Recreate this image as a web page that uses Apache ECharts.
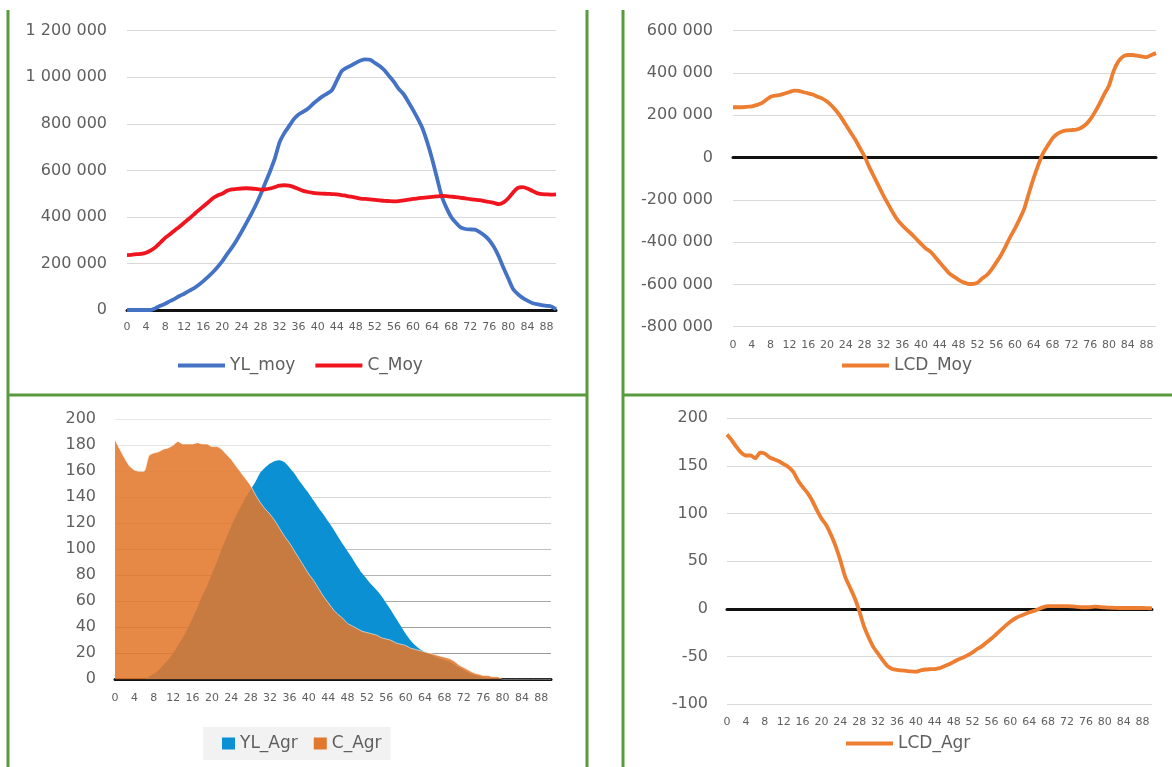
<!DOCTYPE html>
<html>
<head>
<meta charset="utf-8">
<script src="https://cdn.jsdelivr.net/npm/echarts@6/dist/echarts.min.js"></script>
<style>
  html, body { margin: 0; padding: 0; background: #ffffff; }
  #chart { width: 1172px; height: 767px; }
</style>
</head>
<body>
<div id="chart"></div>
<script>
// Ages 0..90 shared by all four panels
const ages = [
  0, 1, 2, 3, 4, 5, 6, 7, 8, 9,
  10, 11, 12, 13, 14, 15, 16, 17, 18, 19,
  20, 21, 22, 23, 24, 25, 26, 27, 28, 29,
  30, 31, 32, 33, 34, 35, 36, 37, 38, 39,
  40, 41, 42, 43, 44, 45, 46, 47, 48, 49,
  50, 51, 52, 53, 54, 55, 56, 57, 58, 59,
  60, 61, 62, 63, 64, 65, 66, 67, 68, 69,
  70, 71, 72, 73, 74, 75, 76, 77, 78, 79,
  80, 81, 82, 83, 84, 85, 86, 87, 88, 89, 90
];

// Panel 1: average labour income (YL_moy) and consumption (C_Moy)
const ylMoy = [
  0, 0, 0, 0, 0, 0, 8000, 18000, 27000, 38000,
  48000, 60000, 70000, 82000, 93000, 107000, 124000, 142000, 162000, 185000,
  210000, 240000, 268000, 300000, 335000, 372000, 410000, 450000, 495000, 545000,
  595000, 650000, 720000, 760000, 790000, 820000, 840000, 852000, 866000, 885000,
  902000, 918000, 930000, 945000, 985000, 1025000, 1040000, 1050000, 1062000, 1072000,
  1077000, 1075000, 1062000, 1048000, 1030000, 1005000, 980000, 950000, 928000, 895000,
  860000, 822000, 780000, 720000, 650000, 570000, 490000, 440000, 400000, 375000,
  355000, 348000, 346000, 345000, 335000, 320000, 300000, 270000, 230000, 180000,
  135000, 90000, 68000, 52000, 40000, 30000, 25000, 21000, 18000, 15000, 3000
];
const cMoy = [
  236000, 237000, 240000, 241000, 246000, 256000, 270000, 290000, 310000, 325000,
  342000, 358000, 375000, 392000, 410000, 428000, 445000, 462000, 480000, 492000,
  500000, 512000, 518000, 520000, 522000, 523000, 522000, 520000, 517000, 518000,
  522000, 528000, 534000, 536000, 534000, 528000, 520000, 512000, 507000, 503000,
  501000, 500000, 499000, 498000, 497000, 494000, 490000, 487000, 483000, 479000,
  477000, 475000, 473000, 471000, 469000, 468000, 467000, 468000, 471000, 474000,
  477000, 480000, 482000, 484000, 486000, 488000, 490000, 489000, 487000, 485000,
  482000, 480000, 476000, 474000, 472000, 468000, 464000, 460000, 455000, 462000,
  480000, 505000, 525000, 528000, 522000, 512000, 502000, 498000, 497000, 496000, 497000
];

// Panel 2: average life-cycle deficit (LCD_Moy)
const lcdMoy = [
  238000, 238000, 238000, 240000, 242000, 248000, 256000, 272000, 288000, 293000,
  296000, 303000, 310000, 317000, 315000, 309000, 304000, 298000, 288000, 279000,
  265000, 245000, 220000, 190000, 155000, 120000, 85000, 45000, 5000, -45000,
  -90000, -135000, -180000, -220000, -260000, -295000, -320000, -342000, -362000, -385000,
  -408000, -430000, -445000, -470000, -497000, -522000, -548000, -563000, -578000, -590000,
  -597000, -598000, -592000, -572000, -556000, -530000, -497000, -462000, -420000, -375000,
  -335000, -290000, -240000, -165000, -95000, -32000, 22000, 58000, 92000, 112000,
  123000, 128000, 130000, 132000, 140000, 155000, 180000, 215000, 255000, 300000,
  340000, 410000, 455000, 478000, 485000, 485000, 482000, 478000, 475000, 485000, 494000
];

// Panel 3: aggregate labour income (YL_Agr) and consumption (C_Agr)
const ylAgr = [
  0, 0, 0, 0, 0, 0, 0, 2, 4, 7,
  11, 15, 20, 26, 32, 39, 47, 55, 64, 72,
  81, 90, 100, 109, 118, 126, 133, 140, 146, 152,
  159, 163, 166, 168, 168.5, 167, 163, 158.5, 153, 148,
  143, 137.5, 132, 127, 121.5, 116, 110, 104, 98.5, 93,
  87, 81.5, 77, 72.5, 68.7, 64, 58.5, 53, 47, 41,
  35, 30, 26, 23, 21, 19.5, 17.5, 16, 15, 13.5,
  11.5, 9, 7, 5, 3.5, 2.5, 1.5, 1, 0.5, 0.3,
  0, 0, 0, 0, 0, 0, 0, 0, 0, 0, 0
];
const cAgr = [
  184, 177, 170, 164, 161, 160, 160, 172, 174, 175,
  177, 178, 180, 183, 181, 181, 181, 182, 181, 181,
  179, 179, 177, 173, 169, 164, 159, 154, 149, 142,
  136, 131, 127, 122, 116, 110, 105, 99, 93, 87,
  81, 76, 70, 64, 59, 54, 50, 47, 43, 41,
  39, 37, 36, 35, 34, 32, 31, 30, 28, 27,
  26, 24, 23, 22, 21, 20, 19, 18, 17, 16,
  14, 11, 9, 7, 5, 4, 3, 3, 2, 2,
  0, 0, 0, 0, 0, 0, 0, 0, 0, 0, 0
];

// Panel 4: aggregate life-cycle deficit (LCD_Agr)
const lcdAgr = [
  183, 177, 170, 164, 161, 161, 158, 164, 163, 159,
  157, 155, 152, 149, 144, 135, 128, 122, 114, 104,
  95, 88, 78, 66, 51, 34, 23, 12, -2, -18,
  -30, -40, -47, -54, -60, -63, -64, -64.5, -65, -65.5,
  -65.7, -64.5, -63.5, -63.2, -63, -62, -60, -58, -55.5, -53,
  -51, -48.5, -45.5, -42, -39, -35, -31, -26.5, -22, -17.5,
  -13.5, -10, -7.5, -5.5, -3.5, -2, 0, 2, 3, 3,
  3, 3, 3, 2.8, 2.3, 1.8, 1.8, 2, 2.4, 2,
  1.6, 1.4, 1.2, 1, 1, 1, 1, 1, 1, 0.8, 0.7
];

// Value-axis ranges: [min, max, interval]
const rangeMoy = [0, 1200000, 200000];
const rangeLcdMoy = [-800000, 600000, 200000];
const rangeAgr = [0, 200, 20];
const rangeLcdAgr = [-100, 200, 50];

const FONT = 'DejaVu Sans';
const GREY = '#5f5f5f';
const GRID_GREY = '#d9d9d9';
const FRAME = '#5a9a3e';

function fmt(v) {
  const s = Math.abs(v).toString().replace(/\B(?=(\d{3})+(?!\d))/g, ' ');
  return (v < 0 ? '-' : '') + s;
}

function catAxis(gridIndex, margin) {
  return {
    type: 'category', gridIndex, data: ages, boundaryGap: false,
    axisLine: { show: true, onZero: true, lineStyle: { color: '#111', width: 3 } },
    axisTick: { show: false },
    axisLabel: { interval: 3, margin, color: GREY, fontFamily: FONT, fontSize: 11 },
    splitLine: { show: false }
  };
}

function valAxis(gridIndex, range, gridColor, margin) {
  return {
    type: 'value', gridIndex, min: range[0], max: range[1], interval: range[2],
    axisLine: { show: false }, axisTick: { show: false },
    axisLabel: { formatter: fmt, color: GREY, fontFamily: FONT, fontSize: 16, margin },
    splitLine: { show: true, lineStyle: { color: gridColor, width: 1 } }
  };
}

function lineSeries(name, idx, data, color) {
  return {
    name, type: 'line', xAxisIndex: idx, yAxisIndex: idx, data,
    symbol: 'none', smooth: 0.2,
    lineStyle: { color, width: 3.8 }, itemStyle: { color }
  };
}

const legendText = { fontFamily: FONT, fontSize: 17, color: GREY };

// Line-series legends use a thin bar as their key
function lineLegend(names, left, top, gap) {
  return { data: names, left, top, padding: 0, icon: 'rect',
           itemWidth: 47, itemHeight: 4, itemGap: gap || 10, textStyle: legendText };
}

function frameLine(x1, y1, x2, y2) {
  return { type: 'line', z: 100, shape: { x1, y1, x2, y2 },
           style: { stroke: FRAME, lineWidth: 3 } };
}

const option = {
  animation: false,
  backgroundColor: '#ffffff',
  grid: [
    { left: 127, top: 30.7, width: 429, height: 279.3 },
    { left: 733, top: 30.7, width: 423, height: 296 },
    { left: 115, top: 419.3, width: 436, height: 260 },
    { left: 727, top: 418.3, width: 425, height: 286 }
  ],
  xAxis: [catAxis(0, 12), catAxis(1, 13), catAxis(2, 13), catAxis(3, 12)],
  yAxis: [
    valAxis(0, rangeMoy, GRID_GREY, 20),
    valAxis(1, rangeLcdMoy, GRID_GREY, 20),
    valAxis(2, rangeAgr,
      ['#9a9a9a', '#9a9a9a', '#a0a0a0', '#a8a8a8', '#b2b2b2', '#bebebe',
       '#cdcdcd', '#d8d8d8', '#e0e0e0', '#e5e5e5', '#e8e8e8'], 19),
    valAxis(3, rangeLcdAgr, GRID_GREY, 19)
  ],
  legend: [
    lineLegend(['YL_moy', 'C_Moy'], 178, 357, 20),
    lineLegend(['LCD_Moy'], 842, 357),
    { data: ['YL_Agr', 'C_Agr'], left: 203, top: 727, padding: [8, 9, 8, 19],
      backgroundColor: '#f2f2f2', icon: 'rect', itemWidth: 13, itemHeight: 12,
      itemGap: 16, textStyle: legendText },
    lineLegend(['LCD_Agr'], 846, 735)
  ],
  series: [
    lineSeries('YL_moy', 0, ylMoy, '#4472c4'),
    lineSeries('C_Moy', 0, cMoy, '#f0141e'),
    lineSeries('LCD_Moy', 1, lcdMoy, '#ed7d31'),
    {
      name: 'YL_Agr', type: 'line', xAxisIndex: 2, yAxisIndex: 2, data: ylAgr,
      symbol: 'none', smooth: 0.2,
      lineStyle: { width: 0, opacity: 0 },
      itemStyle: { color: '#0b90d3' },
      areaStyle: { color: '#0b90d3', opacity: 1 }
    },
    {
      name: 'C_Agr', type: 'line', xAxisIndex: 2, yAxisIndex: 2, data: cAgr,
      symbol: 'none', smooth: 0.2,
      lineStyle: { color: 'rgba(255,255,255,0.6)', width: 1 },
      itemStyle: { color: '#e2782e' },
      areaStyle: { color: '#e2772c', opacity: 0.88 }
    },
    lineSeries('LCD_Agr', 3, lcdAgr, '#ed7d31')
  ],
  graphic: [
    frameLine(8, 10, 8, 767),
    frameLine(587, 10, 587, 767),
    frameLine(623, 10, 623, 767),
    frameLine(8, 395, 587, 395),
    frameLine(623, 395, 1172, 395)
  ]
};

const chart = echarts.init(document.getElementById('chart'), null, { renderer: 'canvas' });
chart.setOption(option);
</script>
</body>
</html>
